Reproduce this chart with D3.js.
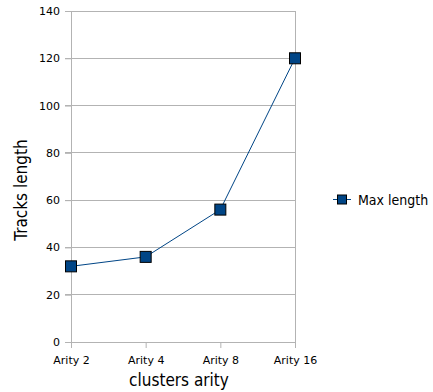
<!DOCTYPE html>
<html><head><meta charset="utf-8">
<script src="https://cdn.jsdelivr.net/npm/d3@7"></script>
<style>body{margin:0;background:#fff}svg{display:block}text{font-family:"DejaVu Sans",sans-serif}
.cond{font-family:"DejaVu Sans Condensed","DejaVu Sans",sans-serif;font-stretch:condensed}</style>
</head><body>
<script>
const categories = ["Arity 2", "Arity 4", "Arity 8", "Arity 16"];
const maxLength = [32, 36, 56, 120];
const yTicks = [0, 20, 40, 60, 80, 100, 120, 140];
const seriesName = "Max length";

const W = 433, H = 392;
const svg = d3.select("body").append("svg").attr("width", W).attr("height", H);
const pLeft = 71, pRight = 295, pTop = 11, pBottom = 342;
const x = d3.scalePoint().domain(categories).range([pLeft, pRight]);
const y = d3.scaleLinear().domain([0, 140]).range([pBottom, pTop]);
const grid = "#b3b3b3";

// gridlines
svg.append("g").selectAll("line").data(yTicks).join("line")
  .attr("x1", pLeft - 6).attr("x2", pRight).attr("y1", d => y(d)).attr("y2", d => y(d))
  .attr("stroke", grid).attr("stroke-width", 1).attr("shape-rendering", "crispEdges");
// right border
svg.append("line").attr("x1", pRight).attr("x2", pRight).attr("y1", pTop).attr("y2", pBottom)
  .attr("stroke", grid).attr("shape-rendering", "crispEdges");

// y axis
const ya = svg.append("g").attr("transform", `translate(${pLeft},0)`)
  .call(d3.axisLeft(y).tickValues(yTicks).tickSize(6).tickPadding(5));
ya.select(".domain").attr("stroke", grid);
ya.selectAll(".tick line").attr("stroke", grid);
ya.selectAll("text").attr("font-size", 11).attr("fill", "#000").style("font-family", "DejaVu Sans");

// x axis
const xa = svg.append("g").attr("transform", `translate(0,${pBottom})`)
  .call(d3.axisBottom(x).tickSize(6).tickPadding(8).tickSizeOuter(0));
xa.select(".domain").attr("stroke", grid);
xa.selectAll(".tick line").attr("stroke", grid);
xa.selectAll("text").attr("font-size", 11).attr("fill", "#000").style("font-family", "DejaVu Sans");

// titles
svg.append("text").attr("class", "cond").attr("x", 179).attr("y", 386).attr("text-anchor", "middle")
  .attr("font-size", 17).text("clusters arity");
svg.append("text").attr("class", "cond").attr("transform", "translate(27,190) rotate(-90)").attr("text-anchor", "middle")
  .attr("font-size", 17).text("Tracks length");

// line
const color = "#004586";
svg.append("path").datum(maxLength)
  .attr("d", d3.line().x((d, i) => x(categories[i])).y(d => y(d)))
  .attr("fill", "none").attr("stroke", color).attr("stroke-width", 1);
svg.append("g").selectAll("rect").data(maxLength).join("rect")
  .attr("x", (d, i) => x(categories[i]) - 5.5).attr("y", d => y(d) - 5.5)
  .attr("width", 11).attr("height", 11).attr("fill", color).attr("stroke", "#000").attr("stroke-width", 1);

// legend
const lg = svg.append("g").attr("transform", "translate(342,199.5)");
lg.append("line").attr("x1", -9).attr("x2", 9).attr("stroke", color).attr("stroke-width", 1);
lg.append("rect").attr("x", -4.5).attr("y", -4.5).attr("width", 9).attr("height", 9)
  .attr("fill", color).attr("stroke", "#000").attr("stroke-width", 1);
lg.append("text").attr("class", "cond").attr("x", 16).attr("y", 5.5).attr("font-size", 14).text(seriesName);
</script>
</body></html>
